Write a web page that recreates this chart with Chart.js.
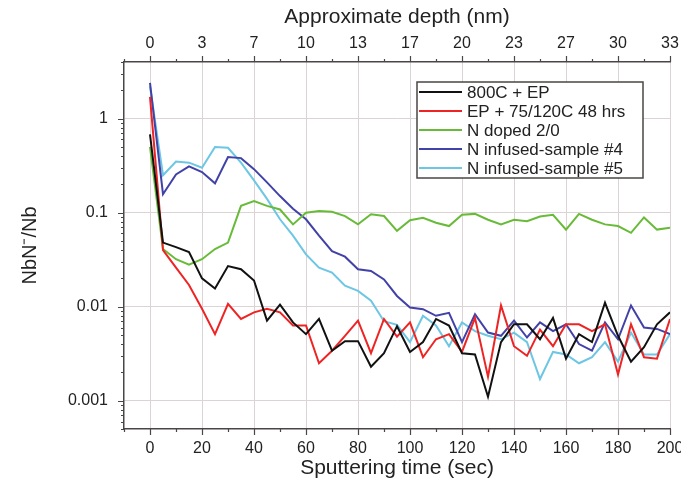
<!DOCTYPE html>
<html>
<head>
<meta charset="utf-8">
<title>NbN-/Nb depth profile</title>
<script src="https://cdn.jsdelivr.net/npm/chart.js@4.4.1/dist/chart.umd.min.js"></script>
<style>
  html, body { margin: 0; padding: 0; background: #fff; overflow: hidden; }
  #wrap { position: relative; width: 681px; height: 490px; }
</style>
</head>
<body>
<div id="wrap"><canvas id="chart" width="681" height="490"></canvas></div>
<script>
// sputtering time (sec)
const TIME = [0, 5, 10, 15, 20, 25, 30, 35, 40, 45, 50, 55, 60, 65, 70, 75, 80, 85, 90, 95, 100,
  105, 110, 115, 120, 125, 130, 135, 140, 145, 150, 155, 160, 165, 170, 175, 180, 185, 190, 195, 200];

const S_800C_EP = [0.68, 0.048, 0.043, 0.038, 0.020, 0.0156, 0.027, 0.025, 0.019, 0.0071, 0.0105,
  0.0068, 0.0051, 0.0074, 0.0034, 0.0043, 0.0043, 0.0023, 0.0032, 0.0062, 0.0033,
  0.0042, 0.0074, 0.0063, 0.0032, 0.0031, 0.0011, 0.0042, 0.0065, 0.0065, 0.0045,
  0.0076, 0.0028, 0.0051, 0.0042, 0.011, 0.0049, 0.0026, 0.0037, 0.0065, 0.0087];
const S_EP_75_120 = [1.7, 0.040, 0.026, 0.017, 0.0095, 0.0051, 0.0107, 0.0074, 0.0087, 0.0095, 0.0087,
  0.0063, 0.0063, 0.0025, 0.0034, 0.0049, 0.0071, 0.0032, 0.0074, 0.0048, 0.0068,
  0.0029, 0.0045, 0.0051, 0.0033, 0.0076, 0.0018, 0.0103, 0.0038, 0.0030, 0.0057,
  0.0038, 0.0065, 0.0065, 0.0055, 0.0065, 0.0019, 0.0065, 0.0029, 0.0028, 0.0074];
const S_N_DOPED = [0.5, 0.041, 0.032, 0.028, 0.032, 0.041, 0.048, 0.118, 0.133, 0.118, 0.108,
  0.075, 0.100, 0.104, 0.102, 0.092, 0.075, 0.096, 0.092, 0.064, 0.083,
  0.088, 0.078, 0.072, 0.095, 0.097, 0.084, 0.075, 0.084, 0.081, 0.091,
  0.095, 0.066, 0.097, 0.084, 0.075, 0.072, 0.061, 0.089, 0.066, 0.069];
const S_INFUSED_4 = [2.4, 0.157, 0.255, 0.31, 0.27, 0.205, 0.39, 0.38, 0.29, 0.21, 0.15,
  0.11, 0.085, 0.057, 0.039, 0.034, 0.025, 0.024, 0.0195, 0.013, 0.0098,
  0.0094, 0.0080, 0.0086, 0.0042, 0.0083, 0.0053, 0.0049, 0.0071, 0.0047, 0.0068,
  0.0055, 0.0065, 0.0040, 0.0034, 0.0068, 0.0045, 0.0103, 0.0060, 0.0058, 0.0051];
const S_INFUSED_5 = [2.2, 0.25, 0.35, 0.34, 0.30, 0.50, 0.49, 0.34, 0.22, 0.14, 0.085,
  0.057, 0.036, 0.026, 0.023, 0.0167, 0.0147, 0.0116, 0.0070, 0.0064, 0.0042,
  0.0080, 0.0063, 0.0038, 0.0068, 0.0055, 0.0049, 0.0045, 0.0053, 0.0042, 0.0017,
  0.0033, 0.0031, 0.0025, 0.0029, 0.0042, 0.0026, 0.0053, 0.0031, 0.0031, 0.0051];

const SERIES_LABELS = ["800C + EP", "EP + 75/120C 48 hrs", "N doped 2/0", "N infused-sample #4", "N infused-sample #5"];
const SERIES_COLORS = ["#111111", "#ee2424", "#68bb38", "#4141a8", "#6cc6e4"];

const X_TICKS = [0, 20, 40, 60, 80, 100, 120, 140, 160, 180, 200];
const X_TICK_LABELS = ["0", "20", "40", "60", "80", "100", "120", "140", "160", "180", "200"];
const DEPTH_LABELS = ["0", "3", "7", "10", "13", "17", "20", "23", "27", "30", "33"];
const Y_TICKS = [0.001, 0.01, 0.1, 1];
const Y_TICK_LABELS = ["0.001", "0.01", "0.1", "1"];

const AXIS = "#4a4646";
const GRID = "#dcd4d4";
const TEXT = "#222222";
const FONT = "'Liberation Sans', Arial, sans-serif";

function toPoints(values) {
  return TIME.map((t, i) => ({ x: t, y: values[i] }));
}

const allSeries = [S_800C_EP, S_EP_75_120, S_N_DOPED, S_INFUSED_4, S_INFUSED_5];

function xMinorTicks(scale) {
  const ticks = [];
  for (let v = -10; v <= 200; v += 10) ticks.push({ value: v });
  scale.ticks = ticks;
}

// minor + major ticks drawn by hand so majors can be longer
const tickMarks = {
  id: "tickMarks",
  afterDraw(chart) {
    const { ctx, scales } = chart;
    ctx.save();
    ctx.strokeStyle = AXIS;
    ctx.lineWidth = 1.2;
    ctx.beginPath();
    scales.x.ticks.forEach((t) => {
      const px = Math.round(scales.x.getPixelForValue(t.value)) + 0.5;
      const len = X_TICKS.includes(t.value) ? 6 : 3;
      ctx.moveTo(px, scales.x.top);
      ctx.lineTo(px, scales.x.top + len);
    });
    scales.x2.ticks.forEach((t) => {
      const px = Math.round(scales.x2.getPixelForValue(t.value)) + 0.5;
      const len = X_TICKS.includes(t.value) ? 6 : 3;
      ctx.moveTo(px, scales.x2.bottom);
      ctx.lineTo(px, scales.x2.bottom - len);
    });
    scales.y.ticks.forEach((t) => {
      const py = Math.round(scales.y.getPixelForValue(t.value)) + 0.5;
      const len = Y_TICKS.includes(t.value) ? 6 : 3;
      ctx.moveTo(scales.y.right, py);
      ctx.lineTo(scales.y.right - len, py);
    });
    ctx.stroke();
    ctx.restore();
  },
};

const legendBox = {
  id: "legendBox",
  afterDatasetsDraw(chart) {
    const ctx = chart.ctx;
    const left = 417, top = 82, w = 226, h = 96, rowH = 19;
    ctx.save();
    ctx.fillStyle = "#fff";
    ctx.fillRect(left, top, w, h);
    ctx.strokeStyle = AXIS;
    ctx.lineWidth = 1.5;
    ctx.strokeRect(left, top, w, h);
    ctx.font = `17px ${FONT}`;
    ctx.textBaseline = "middle";
    chart.data.datasets.forEach((ds, i) => {
      const cy = top + 10 + i * rowH;
      ctx.strokeStyle = ds.borderColor;
      ctx.lineWidth = 2;
      ctx.beginPath();
      ctx.moveTo(left + 2, cy);
      ctx.lineTo(left + 45, cy);
      ctx.stroke();
      ctx.fillStyle = TEXT;
      ctx.fillText(ds.label, left + 50, cy + 1);
    });
    ctx.restore();
  },
};

const ctx = document.getElementById("chart").getContext("2d");
new Chart(ctx, {
  type: "line",
  data: {
    datasets: allSeries.map((s, i) => ({
      label: SERIES_LABELS[i],
      data: toPoints(s),
      borderColor: SERIES_COLORS[i],
      backgroundColor: SERIES_COLORS[i],
      borderWidth: 2,
      pointRadius: 0,
      tension: 0,
      fill: false,
      xAxisID: "x",
      yAxisID: "y",
    })),
  },
  options: {
    responsive: false,
    animation: false,
    devicePixelRatio: 1,
    layout: { padding: { left: 0, right: 11, top: 0, bottom: 0 } },
    plugins: {
      legend: { display: false },
      tooltip: { enabled: false },
    },
    scales: {
      x: {
        type: "linear",
        position: "bottom",
        min: -10,
        max: 200,
        afterBuildTicks: xMinorTicks,
        afterFit: (s) => { s.height = 61; s.paddingLeft = 0; s.paddingRight = 0; },
        grid: {
          color: (c) => (c.tick && X_TICKS.includes(c.tick.value) ? GRID : "transparent"),
          lineWidth: 1,
          drawTicks: true,
          tickLength: 5,
          tickColor: "transparent",
        },
        border: { color: AXIS, width: 1.5 },
        ticks: {
          autoSkip: false,
          maxRotation: 0,
          padding: 5,
          color: TEXT,
          font: { family: FONT, size: 16 },
          callback: (v) => { const i = X_TICKS.indexOf(v); return i >= 0 ? X_TICK_LABELS[i] : ""; },
        },
        title: {
          display: true,
          text: "Sputtering time (sec)",
          color: TEXT,
          font: { family: FONT, size: 21 },
          padding: { top: 0, bottom: 9 },
        },
      },
      x2: {
        type: "linear",
        position: "top",
        min: -10,
        max: 200,
        afterBuildTicks: xMinorTicks,
        afterFit: (s) => { s.height = 62; s.paddingLeft = 0; s.paddingRight = 0; },
        grid: { drawOnChartArea: false, drawTicks: true, tickLength: 5, tickColor: "transparent" },
        border: { color: AXIS, width: 1.5 },
        ticks: {
          autoSkip: false,
          maxRotation: 0,
          padding: 4,
          color: TEXT,
          font: { family: FONT, size: 16 },
          callback: (v) => { const i = X_TICKS.indexOf(v); return i >= 0 ? DEPTH_LABELS[i] : ""; },
        },
        title: {
          display: true,
          text: "Approximate depth (nm)",
          color: TEXT,
          font: { family: FONT, size: 21 },
          padding: { top: 5, bottom: 0 },
        },
      },
      y: {
        type: "logarithmic",
        position: "left",
        min: 0.0005,
        max: 4,
        afterBuildTicks: (scale) => {
          const ticks = [];
          for (let e = -4; e <= 0; e++) {
            for (let m = 1; m <= 9; m++) {
              const v = parseFloat((m * Math.pow(10, e)).toPrecision(3));
              if (v >= 0.0005 && v <= 4) ticks.push({ value: v });
            }
          }
          scale.ticks = ticks;
        },
        afterFit: (s) => { s.width = 124; },
        grid: {
          color: (c) => (c.tick && Y_TICKS.includes(c.tick.value) ? GRID : "transparent"),
          lineWidth: 1,
          drawTicks: true,
          tickLength: 5,
          tickColor: "transparent",
        },
        border: { color: AXIS, width: 1.5 },
        ticks: {
          autoSkip: false,
          padding: 11,
          color: TEXT,
          font: { family: FONT, size: 16 },
          callback: (v) => { const i = Y_TICKS.indexOf(v); return i >= 0 ? Y_TICK_LABELS[i] : ""; },
        },
        title: {
          display: true,
          text: "NbN\u207B/Nb",
          color: TEXT,
          font: { family: FONT, size: 20 },
          padding: { top: 18, bottom: 0 },
        },
      },
    },
  },
  plugins: [tickMarks, legendBox],
});
</script>
</body>
</html>
